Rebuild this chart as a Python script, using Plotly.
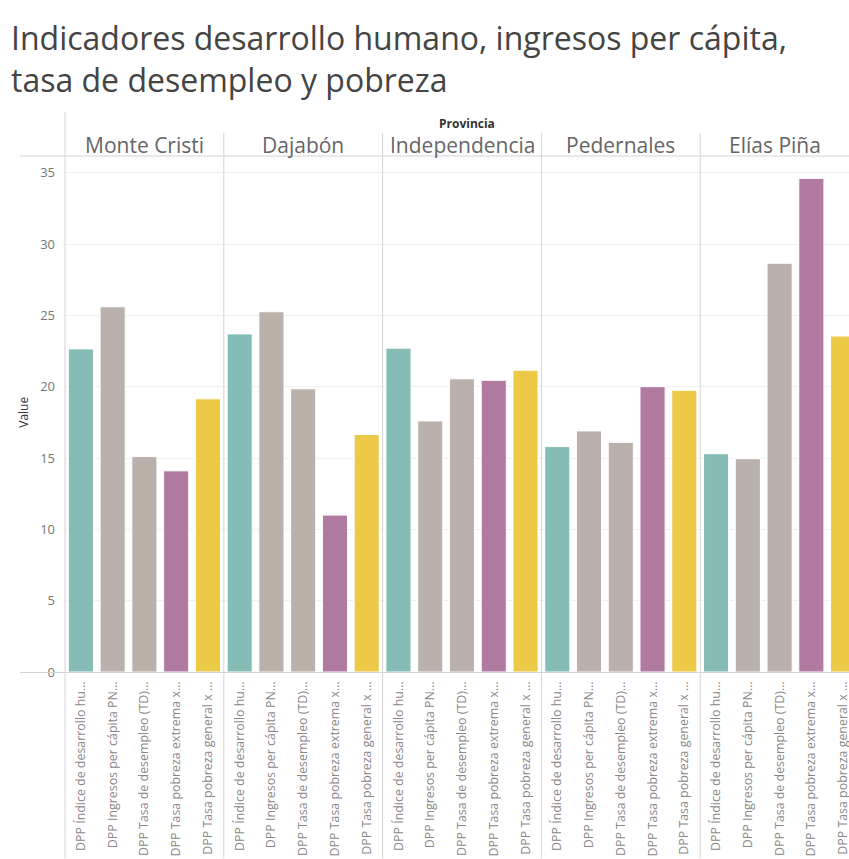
import plotly.graph_objects as go

provinces = ["Monte Cristi", "Dajabón", "Independencia", "Pedernales", "Elías Piña"]
indicators = [
    "DPP Índice de desarrollo hu…",
    "DPP Ingresos per cápita PN…",
    "DPP Tasa de desempleo (TD)…",
    "DPP Tasa pobreza extrema x…",
    "DPP Tasa pobreza general x …",
]
values = {
    "Monte Cristi": [22.65, 25.6, 15.1, 14.1, 19.15],
    "Dajabón": [23.7, 25.25, 19.85, 11.0, 16.65],
    "Independencia": [22.7, 17.6, 20.55, 20.45, 21.15],
    "Pedernales": [15.8, 16.9, 16.1, 20.0, 19.75],
    "Elías Piña": [15.3, 14.95, 28.65, 34.6, 23.55],
}
indicator_colors = ["#86BCB6", "#BAB0AC", "#BAB0AC", "#B07AA1", "#EDC948"]
y_ticks = [0, 5, 10, 15, 20, 25, 30, 35]

W, H = 849, 859
ML, MR, MT, MB = 65, 0, 156, 186.5
PW = W - ML - MR
PH = H - MT - MB
PANE = 158.8

def px2x(px):
    return (px - ML) / PW

def px2y(py):
    return (H - MB - py) / PH

FONT = "Open Sans"
fig = go.Figure()
layout = dict(
    width=W, height=H,
    margin=dict(l=ML, r=MR, t=MT, b=MB, pad=0, autoexpand=False),
    paper_bgcolor="white", plot_bgcolor="white",
    showlegend=False,
    bargap=0.21,
    font=dict(family=FONT, color="#666"),
)

for i, prov in enumerate(provinces):
    ax = "" if i == 0 else str(i + 1)
    d0 = i * PANE / PW
    d1 = min((i + 1) * PANE / PW, 1.0)
    vis_units = (d1 - d0) * PW / (PANE / 5)
    fig.add_trace(go.Bar(
        x=indicators, y=values[prov],
        marker=dict(color=indicator_colors, line=dict(color="white", width=1)),
        xaxis="x" + ax, yaxis="y", name=prov,
    ))
    layout["xaxis" + ax] = dict(
        domain=[d0, d1], anchor="y", type="category",
        range=[-0.5, -0.5 + vis_units], automargin=False,
        tickangle=-90, showgrid=False, zeroline=False, showline=False,
        ticks="", ticklabelstandoff=6,
        tickfont=dict(family=FONT, size=12.4, color="#888"),
        fixedrange=True,
    )
    layout["annotations"] = layout.get("annotations", []) + [dict(
        text=prov, xref="x" + ax + " domain", x=0.5, yref="paper", y=px2y(145),
        xanchor="center", yanchor="middle", showarrow=False,
        font=dict(family=FONT, size=21, color="#666"),
    )]

layout["yaxis"] = dict(
    range=[0, 36.17], tickvals=y_ticks, showgrid=True, gridcolor="#F0F0F0",
    gridwidth=1, zeroline=False, showline=False, ticks="", automargin=False,
    ticklabelstandoff=9, tickfont=dict(family=FONT, size=13, color="#777"),
    fixedrange=True,
)

ann = layout["annotations"]
ann += [
    dict(text="Indicadores desarrollo humano, ingresos per cápita,", xref="paper", yref="paper",
         x=px2x(9), y=px2y(37), xanchor="left", yanchor="middle", showarrow=False,
         font=dict(family=FONT, size=32, color="#444")),
    dict(text="tasa de desempleo y pobreza", xref="paper", yref="paper",
         x=px2x(9), y=px2y(79), xanchor="left", yanchor="middle", showarrow=False,
         font=dict(family=FONT, size=32, color="#444")),
    dict(text="<b>Provincia</b>", xref="paper", yref="paper",
         x=px2x(467), y=px2y(123), xanchor="center", yanchor="middle", showarrow=False,
         font=dict(family=FONT, size=12, color="#333")),
    dict(text="Value", xref="paper", yref="paper", textangle=-90,
         x=px2x(24), y=px2y(413), xanchor="center", yanchor="middle", showarrow=False,
         font=dict(family=FONT, size=12, color="#333")),
]

line_col = "#D4D4D4"
shapes = []
for py in [156, 673]:
    shapes.append(dict(type="line", xref="paper", yref="paper",
                       x0=px2x(20), x1=1, y0=px2y(py), y1=px2y(py),
                       line=dict(color=line_col, width=1)))
shapes.append(dict(type="line", xref="paper", yref="paper",
                   x0=0, x1=0, y0=px2y(112), y1=px2y(H),
                   line=dict(color=line_col, width=1)))
for i in range(1, len(provinces)):
    xp = i * PANE / PW
    shapes.append(dict(type="line", xref="paper", yref="paper",
                       x0=xp, x1=xp, y0=px2y(133), y1=px2y(H),
                       line=dict(color=line_col, width=1)))
layout["shapes"] = shapes

fig.update_layout(**layout)
fig.write_html("out.html", config={"displayModeBar": False},
               post_script="document.body.style.margin='0';document.body.style.overflow='hidden';")
